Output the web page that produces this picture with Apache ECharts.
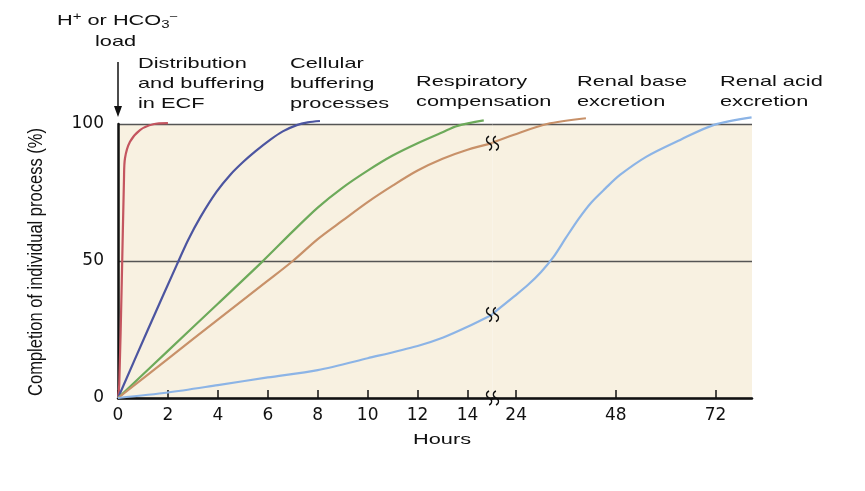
<!DOCTYPE html>
<html>
<head>
<meta charset="utf-8">
<script src="https://cdn.jsdelivr.net/npm/echarts@6/dist/echarts.min.js"></script>
<style>
  html, body { margin: 0; padding: 0; background: #fff; }
  #main { width: 865px; height: 491px; }
</style>
</head>
<body>
<div id="main"></div>
<script>
// tick labels
const hourTicksLeft = [0, 2, 4, 6, 8, 10, 12, 14]
const hourTicksRight = [24, 48, 72]

// the hour axis is broken: it jumps from BREAK_FROM to BREAK_TO
const BREAK_FROM = 15
const BREAK_TO = 18.3
const HOURS_END = 80.8

// [hours, % completion]
const ecfBuffering = [[0, 0], [0.05, 5], [0.15, 42], [0.24, 80], [0.28, 87.5], [0.48, 93.5], [0.88, 97.8], [1.41, 99.9], [2.0, 100.3]]
const cellularBuffering = [[0, 0], [1.2, 25], [2.35, 48.5], [2.8, 57.5], [3.3, 66], [3.95, 75.3], [4.5, 81.5], [5.02, 86.2], [5.5, 90], [6.09, 94.2], [6.6, 97.3], [7.16, 99.6], [7.6, 100.6], [8.09, 101.1]]
const respiratory = [[0, 0], [2, 17.2], [4, 34.4], [5.75, 49.5], [7, 60.8], [8, 69.5], [9, 76.8], [10, 83], [11, 88.5], [12, 93], [13, 97], [13.6, 99.3], [14.65, 101.3]]
const renalBase = [[0, 0], [2, 14.3], [4, 28.6], [6, 42.8], [7, 50], [8, 58], [9, 64.8], [10, 71.5], [11, 77.5], [12, 83], [13, 87.3], [14, 90.6], [15, 93],
  [18.3, 93.2], [23.3, 96], [31.4, 100], [40.8, 102.1]]
const renalAcid = [[0, 0], [2, 2], [4, 4.7], [6, 7.5], [8, 10.2], [10, 14.5], [12, 19], [13, 22], [14, 26], [15, 30.5],
  [18.3, 30.7], [23.3, 36.8], [27, 41.5], [30, 46], [33, 51.5], [36, 58.5], [39, 65.3], [42, 71.2], [45.5, 76.5], [49, 81.4], [55.4, 88.1], [63.5, 94.2], [71.5, 99.6], [80.7, 102.4]]

const beforeBreak = pts => pts.filter(p => p[0] <= BREAK_FROM)
const afterBreak = pts => pts.filter(p => p[0] >= BREAK_TO)
const last = pts => pts[pts.length - 1]

const BG = '#F8F1E1'
const INK = '#111'
const SS_PATH = 'path://M4,0 C0.5,1.5 0.5,5.5 4,7 C7.5,8.5 7.5,12.5 4,14 M11,0 C7.5,1.5 7.5,5.5 11,7 C14.5,8.5 14.5,12.5 11,14'

// the little "ss" marks where a curve (or the axis) crosses the break
function breakMarks(coords) {
  return {
    symbol: SS_PATH,
    symbolSize: [12, 14],
    silent: true,
    label: { show: false },
    itemStyle: { color: 'transparent', borderColor: INK, borderWidth: 1.4 },
    data: coords.map(coord => ({ coord }))
  }
}

function curve(name, data, color, gridIndex, markPoint) {
  const s = {
    name,
    type: 'line',
    xAxisIndex: gridIndex,
    yAxisIndex: gridIndex,
    data,
    smooth: 0.3,
    showSymbol: false,
    symbol: 'none',
    clip: false,
    silent: true,
    lineStyle: { color, width: 2.2 }
  }
  if (markPoint) s.markPoint = markPoint
  return s
}

function hourAxis(gridIndex, min, max, ticks) {
  return {
    type: 'value',
    gridIndex,
    min,
    max,
    axisLine: { show: true, lineStyle: { color: INK, width: 2.5 } },
    axisTick: { show: true, inside: true, length: 8, customValues: ticks, lineStyle: { color: INK, width: 1.5 } },
    axisLabel: { customValues: ticks, color: INK, fontFamily: 'DejaVu Sans', fontSize: 17, margin: 9 },
    splitLine: { show: false }
  }
}

function percentAxis(gridIndex, showAxis) {
  return {
    type: 'value',
    gridIndex,
    min: 0,
    max: 100,
    interval: 50,
    axisLine: { show: showAxis, lineStyle: { color: INK, width: 2.5 } },
    axisTick: { show: false },
    axisLabel: { show: showAxis, color: INK, fontFamily: 'DejaVu Sans', fontSize: 17, margin: 14 },
    splitLine: { show: true, lineStyle: { color: '#555', width: 1.3 } }
  }
}

function note(x, y, text) {
  return {
    type: 'text', x, y, scaleX: 1.5, silent: true,
    style: { text, fill: INK, fontFamily: 'Liberation Sans', fontSize: 14.5, lineHeight: 20, align: 'left', verticalAlign: 'top' }
  }
}

const myChart = echarts.init(document.getElementById('main'))

myChart.setOption({
  animation: false,
  grid: [
    { left: 118, top: 124, width: 374.5, height: 274, show: true, backgroundColor: BG, borderWidth: 0 },
    { left: 492.5, top: 124, width: 259.5, height: 274, show: true, backgroundColor: BG, borderWidth: 0 }
  ],
  xAxis: [
    hourAxis(0, 0, BREAK_FROM, hourTicksLeft),
    hourAxis(1, BREAK_TO, HOURS_END, hourTicksRight)
  ],
  yAxis: [percentAxis(0, true), percentAxis(1, false)],
  series: [
    curve('Distribution and buffering in ECF', ecfBuffering, '#C4555F', 0),
    curve('Cellular buffering processes', cellularBuffering, '#4C55A0', 0),
    curve('Respiratory compensation', respiratory, '#6DAA5A', 0),
    curve('Renal base excretion', beforeBreak(renalBase), '#C89169', 0, breakMarks([last(beforeBreak(renalBase))])),
    curve('Renal base excretion', afterBreak(renalBase), '#C89169', 1),
    curve('Renal acid excretion', beforeBreak(renalAcid), '#8CB4E6', 0, breakMarks([last(beforeBreak(renalAcid)), [BREAK_FROM, 0]])),
    curve('Renal acid excretion', afterBreak(renalAcid), '#8CB4E6', 1)
  ],
  graphic: [
    {
      type: 'text', x: 57, y: 12, scaleX: 1.5, silent: true,
      style: {
        text: 'H{sup|+} or HCO{sub|3}{sup|−}',
        fill: INK, fontFamily: 'Liberation Sans', fontSize: 14.5, lineHeight: 18, align: 'left', verticalAlign: 'top',
        rich: {
          sup: { fontSize: 10, fontFamily: 'Liberation Sans', fill: INK, verticalAlign: 'top', lineHeight: 18 },
          sub: { fontSize: 10, fontFamily: 'Liberation Sans', fill: INK, verticalAlign: 'bottom', lineHeight: 18 }
        }
      }
    },
    note(95, 32, 'load'),
    { type: 'line', silent: true, shape: { x1: 118, y1: 62, x2: 118, y2: 109 }, style: { stroke: INK, lineWidth: 1.5 } },
    { type: 'polygon', silent: true, shape: { points: [[114, 106], [122, 106], [118, 117]] }, style: { fill: INK } },
    note(138, 54, 'Distribution\nand buffering\nin ECF'),
    note(290, 54, 'Cellular\nbuffering\nprocesses'),
    note(416, 72, 'Respiratory\ncompensation'),
    note(577, 72, 'Renal base\nexcretion'),
    note(720, 72, 'Renal acid\nexcretion'),
    note(413, 430, 'Hours'),
    {
      type: 'text', x: 37, y: 262, rotation: Math.PI / 2, scaleY: 1.2, silent: true,
      style: { text: 'Completion of individual process (%)', fill: INK, fontFamily: 'Liberation Sans', fontSize: 16.5, align: 'center', verticalAlign: 'middle' }
    }
  ]
})
</script>
</body>
</html>
